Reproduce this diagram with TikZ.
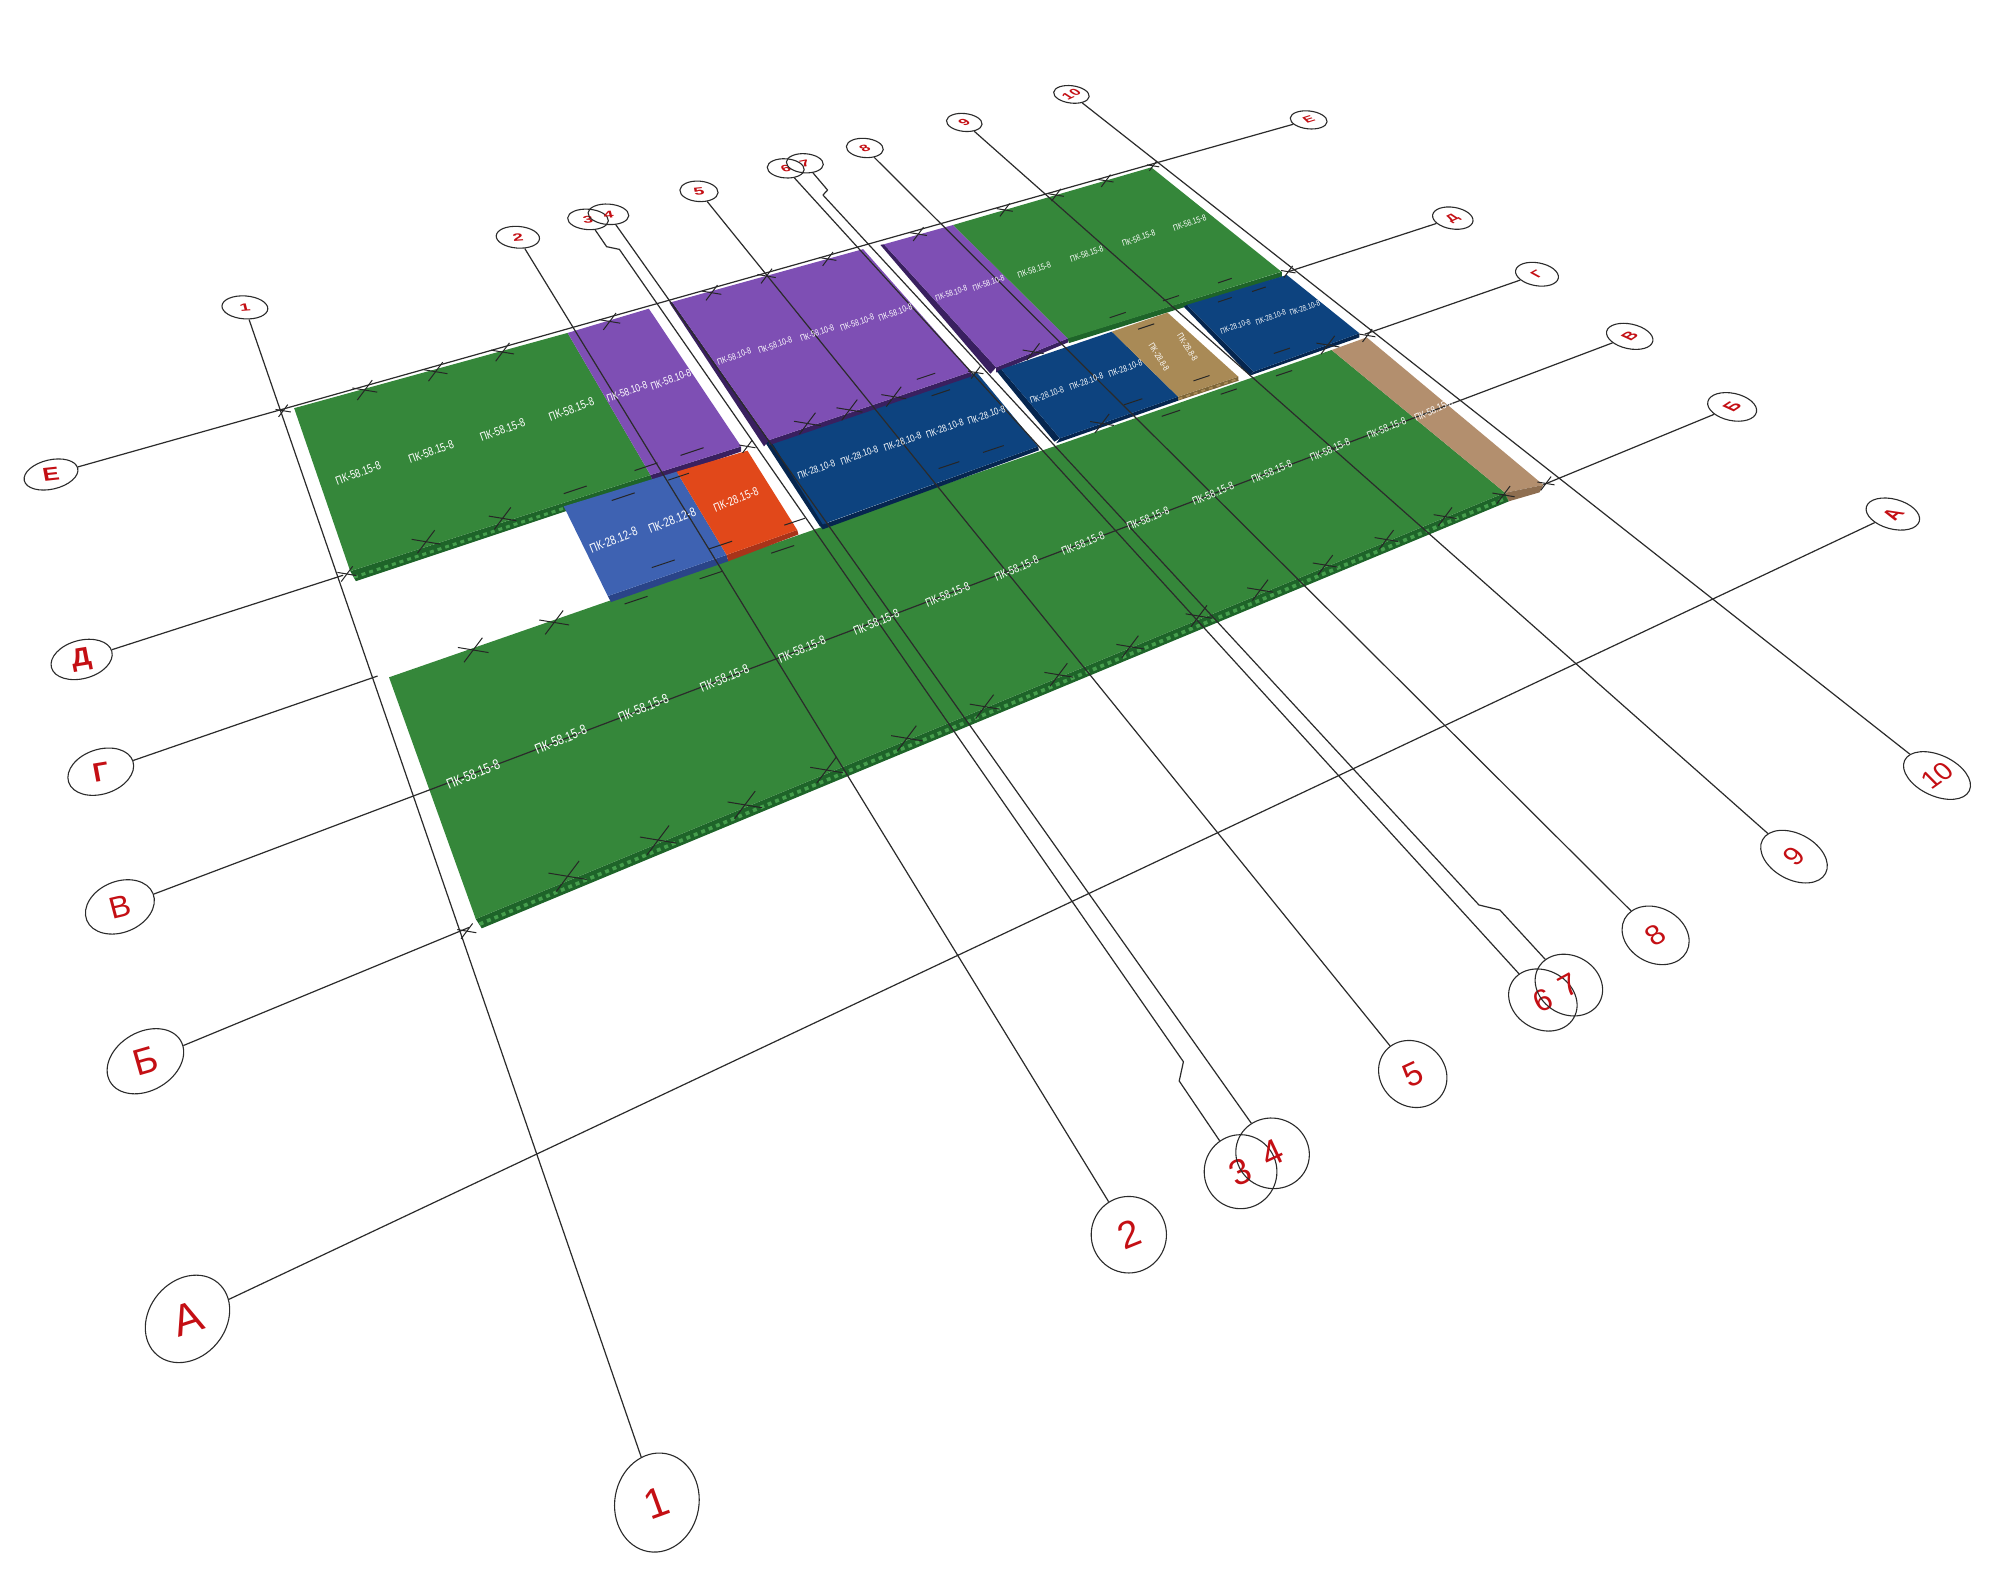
\documentclass[tikz,border=0pt]{standalone}
\usepackage{fontspec}
\setmainfont{Liberation Sans}
\usetikzlibrary{shapes.geometric}
\definecolor{pgreen}{HTML}{35873A}
\definecolor{pgreendk}{HTML}{1E6429}
\definecolor{pgreenlt}{HTML}{459E4C}
\definecolor{ppurple}{HTML}{7E4FB4}
\definecolor{ppurpledk}{HTML}{39205F}
\definecolor{pnavy}{HTML}{0D437F}
\definecolor{pnavydk}{HTML}{06264F}
\definecolor{pblue}{HTML}{3E62B2}
\definecolor{pbluedk}{HTML}{2A4488}
\definecolor{porange}{HTML}{E1481A}
\definecolor{porangedk}{HTML}{A8341A}
\definecolor{ptan}{HTML}{A98A56}
\definecolor{ptandk}{HTML}{7D6538}
\definecolor{ptanb}{HTML}{B38F6E}
\definecolor{ptanbdk}{HTML}{8E6E50}
\definecolor{axisred}{HTML}{C40F14}
\definecolor{axisink}{HTML}{2B2B2B}
\tikzset{
  axisline/.style={draw=axisink,line width=.6pt,line join=round},
  tickline/.style={draw=black!85,line width=.5pt},
  plabel/.style 2 args={text=white,inner sep=0pt,rotate=#1,xscale=.78,
     font=\fontsize{#2}{#2}\selectfont},
  axisnode/.style={ellipse,draw=axisink,line width=.55pt,inner sep=0pt},
  axistext/.style={inner sep=0pt,text=axisred},
  band/.style={draw=none,fill=#1},
  holes/.style={draw=#1,line width=1.5pt,dash pattern=on 2pt off 2pt}
}
% name, centre, rx, ry, tilt, font size, vertical squash, text rotation, text
\newcommand{\axisoval}[9]{%
  \node[axisnode,rotate=#5,minimum width={2*#3*0.63776pt},minimum height={2*#4*0.63776pt}] (#1) at (#2) {};
  \node[axistext,font=\fontsize{#6}{#6}\selectfont] (#1x) at (#2) {\scalebox{1}[#7]{\rotatebox{#8}{#9}}};}
\newcommand{\xmk}[3]{%
  \draw[tickline] (#1-15*#3,#2-2.5*#3) -- (#1+15*#3,#2+2.5*#3);
  \draw[tickline] (#1-9*#3,#2+12*#3) -- (#1+9*#3,#2-12*#3);}
\newcommand{\dmk}[3]{%
  \draw[tickline] (#1-9*#3,#2+3*#3) -- (#1+9*#3,#2-3*#3);}
\begin{document}
\begin{tikzpicture}[x=0.63776pt,y=-0.63776pt]
\useasboundingbox (0,0) rectangle (1568,1238.7);
\fill[white] (0,0) rectangle (1568,1238.7);
% ---------- bands under panels
\fill[band=pgreendk] (274.6,447.8) -- (510,372.4) -- (512,378) -- (279,455.6) -- cycle;
\draw[holes=pgreenlt] (277.5,452.5) -- (442,398.5);
\fill[band=pgreendk] (373,720.5) -- (1180,386.3) -- (1183,393) -- (377.7,727.8) -- cycle;
\draw[holes=pgreenlt,line width=1.8pt] (376,724.5) -- (1182,390);
\fill[band=pgreendk] (837,265) -- (1005,213) -- (1005,217) -- (838,269) -- cycle;
% ---------- big green and tan strip
\fill[pgreen] (305,531) -- (1044,274.4) -- (1180,386.3) -- (373,720.5) -- cycle;
\fill[ptanb] (1044,274.4) -- (1071.5,264.5) -- (1210,380.2) -- (1180,386.3) -- cycle;
\fill[band=ptanbdk] (1180,386.3) -- (1210,380.2) -- (1207,386) -- (1183,393) -- cycle;
% ---------- left green / small purple
\fill[pgreen] (230.6,320) -- (445,261) -- (510,372.4) -- (274.6,447.8) -- cycle;
\fill[band=ppurpledk] (510,372.4) -- (581,350) -- (581,354) -- (512,378) -- cycle;
\fill[ppurple] (445,261) -- (508.7,242) -- (581,350) -- (510,372.4) -- cycle;
% ---------- blue and orange
\fill[band=pbluedk] (476.5,467.3) -- (569.6,435) -- (571,440) -- (479,472) -- cycle;
\fill[band=porangedk] (569.6,435) -- (625,415.5) -- (626,419) -- (571,440) -- cycle;
\fill[pblue] (442,397) -- (530.5,369.8) -- (569.6,435) -- (476.5,467.3) -- cycle;
\fill[porange] (530.5,369.8) -- (586,353.3) -- (625,415.5) -- (569.6,435) -- cycle;
% ---------- large navy
\fill[pnavydk] (600,347) -- (604,345) -- (650,409) -- (643,413) -- cycle;
\fill[band=pnavydk] (643,412) -- (813.8,350) -- (814.5,353) -- (645,415) -- cycle;
\fill[pnavy] (604,345) -- (765.8,292) -- (813.8,350) -- (645,411) -- cycle;
% ---------- large purple
\fill[ppurpledk] (524.8,237.3) -- (527,236.7) -- (603,345) -- (599,350) -- cycle;
\fill[band=ppurpledk] (603,345) -- (761.4,291.4) -- (762,295) -- (603,349) -- cycle;
\fill[ppurple] (527,236.7) -- (676.7,195.3) -- (761.4,291.4) -- (603,345) -- cycle;
% ---------- second purple, right green
\fill[ppurpledk] (690.2,192) -- (693,191.5) -- (781,288) -- (776.5,293) -- cycle;
\fill[band=ppurpledk] (781,288) -- (837.2,265.3) -- (837.2,268.5) -- (781,292) -- cycle;
\fill[ppurple] (693,191.5) -- (747.2,176.4) -- (837.2,265.3) -- (781,288) -- cycle;
\fill[pgreen] (747.2,176.4) -- (902.6,131.2) -- (1004.6,213) -- (837.2,265.3) -- cycle;
% ---------- middle navy and tan
\fill[pnavydk] (781.7,291.4) -- (785,289.5) -- (831,343.6) -- (826.7,346.3) -- cycle;
\fill[band=pnavydk] (831,343.6) -- (923.6,311) -- (924,314) -- (828,347.5) -- cycle;
\fill[band=ptandk] (923.6,311) -- (970.8,295.3) -- (971,298.5) -- (924,314) -- cycle;
\draw[holes=ptan,line width=.9pt] (924,312.7) -- (970.8,297);
\fill[pnavy] (785,289.5) -- (871.7,260) -- (923.6,311) -- (831,343.6) -- cycle;
\fill[ptan] (871.7,260) -- (915.3,245.1) -- (970.8,295.3) -- (923.6,311) -- cycle;
% ---------- right navy
\fill[pnavydk] (928,240.4) -- (930.6,239) -- (982.7,291.4) -- (979.8,294.5) -- cycle;
\fill[band=pnavydk] (982.7,291.4) -- (1065.8,261.3) -- (1065.8,264.5) -- (979.8,294.5) -- cycle;
\fill[pnavy] (930.6,239) -- (1008.9,215.6) -- (1065.8,261.3) -- (982.7,291.4) -- cycle;
% ---------- axis ovals: top digits
\axisoval{t1}{192,241}{18}{9}{-4}{9.5}{.55}{8}{\bfseries 1}
\axisoval{t2}{406,186}{17}{8.5}{-4}{9.5}{.55}{8}{\bfseries 2}
\axisoval{t3}{461,172}{16}{8}{-4}{9}{.55}{8}{\bfseries 3}
\axisoval{t4}{477,168}{16}{8}{-4}{9}{.55}{8}{\bfseries 4}
\axisoval{t5}{548,150}{15}{8}{-4}{9.5}{.55}{10}{\bfseries 5}
\axisoval{t6}{616,132}{14.5}{7.5}{-4}{8.5}{.55}{20}{\bfseries 6}
\axisoval{t7}{631,128}{14.5}{7.5}{-4}{8.5}{.55}{20}{\bfseries 7}
\axisoval{t8}{678,116}{14.5}{7.5}{-5}{8.5}{.55}{30}{\bfseries 8}
\axisoval{t9}{756,96}{14}{7}{-6}{8.5}{.55}{40}{\bfseries 9}
\axisoval{t10}{840,74}{14}{6.8}{-7}{8.5}{.55}{40}{\bfseries 10}
% right letters
\axisoval{rE}{1026,94}{14.5}{7}{-6}{8}{.55}{30}{\bfseries Е}
\axisoval{rD}{1139,171}{16}{8.5}{-9}{8.5}{.55}{40}{\bfseries Д}
\axisoval{rG}{1205,215}{17}{9}{-10}{9}{.55}{45}{\bfseries Г}
\axisoval{rV}{1277.7,263.7}{18.5}{9.7}{-12}{10}{.55}{50}{\bfseries В}
\axisoval{rB}{1358,319}{19.5}{10.7}{-12}{11}{.55}{50}{\bfseries Б}
\axisoval{rA}{1484,403}{21.5}{11.7}{-15}{13}{.55}{55}{\bfseries А}
% left letters
\axisoval{lE}{40,372}{21.5}{11.5}{13}{12.5}{.75}{8}{\bfseries Е}
\axisoval{lD}{64,517}{24.5}{15}{15}{14}{.92}{10}{\bfseries Д}
\axisoval{lG}{79,605}{26.5}{17.5}{18}{14}{.95}{10}{\bfseries Г}
\axisoval{lV}{94,711}{28}{20}{22}{16}{.95}{14}{В}
\axisoval{lB}{114,832}{32}{23}{30}{18.5}{1}{16}{Б}
\axisoval{lA}{147,1034}{37}{30}{50}{22}{1}{18}{А}
% bottom digits
\axisoval{b1}{515,1178}{33}{39}{-10}{21}{1}{20}{1}
\axisoval{b2}{885,968}{29.5}{30}{0}{19}{1}{22}{2}
\axisoval{b3}{972.6,918.6}{28.5}{29}{0}{18}{1}{25}{3}
\axisoval{b4}{997.7,904.2}{29}{27.5}{-20}{18}{1}{25}{4}
\axisoval{b5}{1107.6,842}{28}{25}{-40}{16.5}{1}{25}{5}
\axisoval{b6}{1209.6,784}{28}{23}{-30}{16}{.95}{25}{6}
\axisoval{b7}{1230,772.3}{27.5}{23}{-30}{16}{.95}{30}{7}
\axisoval{b8}{1298,733.3}{27.5}{21.5}{-28}{15.5}{.9}{35}{8}
\axisoval{b9}{1406.5,671.6}{28}{18}{-28}{15}{.85}{45}{9}
\axisoval{b10}{1518.6,608}{28}{16}{-25}{14.5}{.85}{40}{10}
% ---------- free ends and bends
\coordinate (dL) at (269,451);
\coordinate (dR) at (1010,213);
\coordinate (gL) at (296,530);
\coordinate (gR) at (1070,262);
\coordinate (bL) at (368,727);
\coordinate (bR) at (1210,380);
\coordinate (j3a) at (475.6,193.4);
\coordinate (j3b) at (485.6,195.5);
\coordinate (j3c) at (927.8,832.4);
\coordinate (j3d) at (924.5,847.5);
\coordinate (j7a) at (648.8,149);
\coordinate (j7b) at (645.2,152.9);
\coordinate (j7c) at (1159.5,709.5);
\coordinate (j7d) at (1176,713.5);
% ---------- axis lines
\draw[axisline] (t1) -- (b1);
\draw[axisline] (t2) -- (b2);
\draw[axisline] (t3) -- (j3a) -- (j3b) -- (j3c) -- (j3d) -- (b3);
\draw[axisline] (t4) -- (b4);
\draw[axisline] (t5) -- (b5);
\draw[axisline] (t6) -- (b6);
\draw[axisline] (t7) -- (j7a) -- (j7b) -- (j7c) -- (j7d) -- (b7);
\draw[axisline] (t8) -- (b8);
\draw[axisline] (t9) -- (b9);
\draw[axisline] (t10) -- (b10);
\draw[axisline] (lE) -- (rE);
\draw[axisline] (lD) -- (dL);
\draw[axisline] (dR) -- (rD);
\draw[axisline] (lG) -- (gL);
\draw[axisline] (gR) -- (rG);
\draw[axisline] (lV) -- (rV);
\draw[axisline] (lB) -- (bL);
\draw[axisline] (bR) -- (rB);
\draw[axisline] (lA) -- (rA);
% ---------- joint marks
\foreach \x/\y/\s in {445/687/1,516/658.6/.95,584/631/.9,648/603.7/.85,711/578.8/.82,772/554/.78,830/529/.75,
   886/507/.72,940/483/.7,988/462.6/.68,1039/443/.65,1087/423/.62,1133/405/.6,1178.7/388/.58,
   371/509.6/.8,434.5/488/.78,286/305.8/.65,341.5/291.4/.62,394/276/.6,478/252/.55,334/424.7/.75,394/406.4/.72,
   633/332/.7,666/321.4/.68,700.7/311/.65,864/332/.62,810/275.8/.55,1041/270.5/.6,867/141.7/.4,828/152.9/.4,
   787.7/164.6/.42,720/183.5/.45,649/203/.45,558/229.5/.5,601/216.4/.48,
   1072/263/.42,1010/213/.38,1212/379/.45,366/730/.5,272/450/.5,222/322/.4,904/130/.32,765/292/.4,586/350/.42}
  {\xmk{\x}{\y}{\s}}
\foreach \x/\y/\s in {488.6/389.4/1,542.6/354/1,506.5/365.9/1,520/442/1,565/427.3/1,557.5/450.8/1,613.6/430.7/1,
   623/409/.9,532/373.7/.9,498.7/470.5/1,451/384/1,726/295/.8,737.6/307.9/.8,744/364.6/.9,778.8/352/.9,888.4/315/.8,
   918/324/.8,963.3/307/.7,942/296.5/.7,876.3/247/.7,898.6/256/.7,918/233.8/.7,960.3/220/.6,987/226.8/.6,960.3/235/.6,
   1005/275/.7,1006.7/292.6/.7}
  {\dmk{\x}{\y}{\s}}
% ---------- panel labels
\foreach \x/\y/\f [count=\i] in {371/607/7.2,439.7/580/7,504.4/555/6.8,568/531.8/6.6,628.7/509/6.4,687/488/6.2,
   743/466/6,797/445.5/5.9,849/426/5.8,900/406.5/5.7,951/387/5.6,997/369.8/5.5,1042.7/352.8/5.4,1087/335.7/5.3,1124/321.5/5.2}
  {\node[plabel={23}{\f}] (bg\i) at (\x,\y) {ПК-58.15-8};}
\foreach \x/\y [count=\i] in {280.8/371,338/354,394/337,448/320.9}
  {\node[plabel={20}{6}] (lg\i) at (\x,\y) {ПК-58.15-8};}
\foreach \x/\y [count=\i] in {491.6/307,526/297.4}
  {\node[plabel={20}{5.4}] (sp\i) at (\x,\y) {ПК-58.10-8};}
\node[plabel={22}{6}] (or1) at (577,391.5) {ПК-28.15-8};
\foreach \x/\y [count=\i] in {481/423.4,527/408}
  {\node[plabel={22}{6.4}] (bl\i) at (\x,\y) {ПК-28.12-8};}
\foreach \x/\y [count=\i] in {575.6/279.6,607.8/270.5,640.7/261,672/253,702/245}
  {\node[plabel={20}{4.5}] (lp\i) at (\x,\y) {ПК-58.10-8};}
\foreach \x/\y [count=\i] in {640/368,673.7/356.8,707.7/346.3,740.7/335.8,773.4/325.4}
  {\node[plabel={20}{5}] (ln\i) at (\x,\y) {ПК-28.10-8};}
\foreach \x/\y [count=\i] in {745.8/230,775/222}
  {\node[plabel={19}{4.2}] (pp\i) at (\x,\y) {ПК-58.10-8};}
\foreach \x/\y [count=\i] in {810.8/211.7,852/199.2,892.8/186.8,932.7/174.6}
  {\node[plabel={19}{4.4}] (rg\i) at (\x,\y) {ПК-58.15-8};}
\foreach \x/\y [count=\i] in {820.7/309.7,851.7/299.2,882.3/288.8}
  {\node[plabel={20}{4.5}] (mn\i) at (\x,\y) {ПК-28.10-8};}
\foreach \x/\y [count=\i] in {908.7/280,931/272.3}
  {\node[plabel={-58}{4.4}] (tn\i) at (\x,\y) {ПК-28.8-8};}
\foreach \x/\y [count=\i] in {968.6/256,996.3/248.8,1023/241.6}
  {\node[plabel={19}{4}] (rn\i) at (\x,\y) {ПК-28.10-8};}
\end{tikzpicture}
\end{document}
